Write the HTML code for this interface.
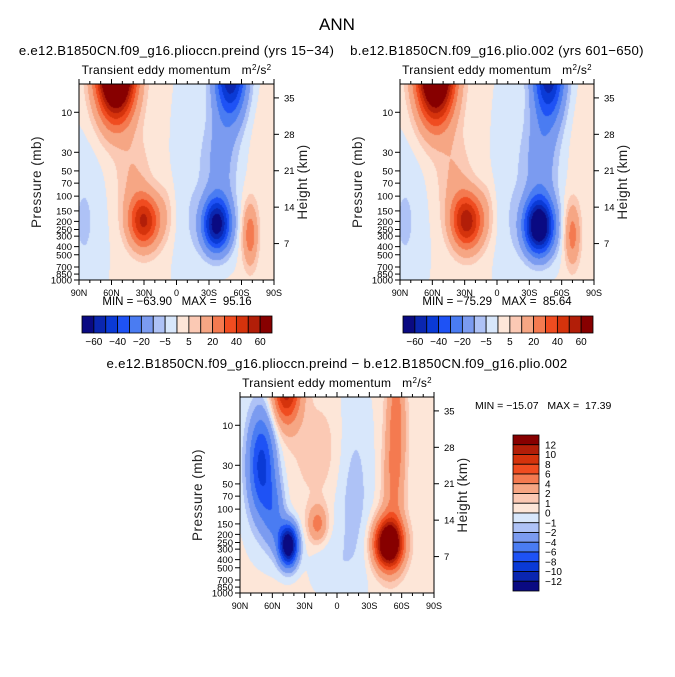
<!DOCTYPE html>
<html><head><meta charset="utf-8">
<style>
html,body{margin:0;padding:0;background:#fff;}
#root{position:relative;width:675px;height:677px;overflow:hidden;font-family:"Liberation Sans",sans-serif;}
canvas{position:absolute;}
svg{position:absolute;left:0;top:0;}
svg text{white-space:pre;}
</style></head>
<body>
<div id="root">
<canvas id="c1"></canvas>
<canvas id="c2"></canvas>
<canvas id="c3"></canvas>
<svg id="s" width="675" height="677"></svg>
</div>
<script>
// ---- data ----
const palette = ["#0a0a82","#0a26b0","#0a3ad6","#1e52f5","#4a7cf2","#7b9bf0","#aec2f6","#d8e7fb","#fde6d8","#fbc9b4","#f6a684","#f47a50","#f04c20","#d5330c","#b21e08","#870000"];
const levelsTop = [-60,-50,-40,-30,-20,-10,-5,0,5,10,20,30,40,50,60];
const levelsDiff = [-12,-10,-8,-6,-4,-2,-1,0,1,2,4,6,8,10,12];
const cbarTopLabels = ["-60","-40","-20","-5","5","20","40","60"];
const cbarDiffLabels = ["12","10","8","6","4","2","1","0","\u22121","\u22122","\u22124","\u22126","\u22128","\u221210","\u221212"];
const pressureTicks = [10,30,50,70,100,150,200,250,300,400,500,700,850,1000];
const heightTicks = [7,14,21,28,35];
const latTicks = [90,60,30,0,-30,-60,-90];
const latLabels = ["90N","60N","30N","0","30S","60S","90S"];
// blobs: [lat, pressure(mb), amplitude, sigmaLat, sigmaLog10P]
const blobsPreind = [
 [0,100,1,60,3],
 [56,3,120,12,0.4],[40,60,9,11,0.35],[30,200,50,10,0.22],[10,150,5,6,0.25],
 [85,200,-6,12,0.6],[-50,3,-65,10,0.4],[-40,40,-14,11,0.45],[-37,220,-66,9,0.22],
 [-10,100,-5,10,1.0],[-68,290,26,5,0.26],[-85,20,3,12,0.5]
];
const blobsPlio = [
 [0,100,1,60,3],
 [57,3,110,12,0.42],[40,60,9,11,0.35],[28,200,55,10,0.23],[10,150,5,6,0.25],
 [85,200,-6,12,0.6],[-48,3,-62,10,0.42],[-40,40,-16,11,0.45],[-39,230,-80,9.5,0.23],
 [-10,100,-5,10,1.0],[-70,290,24,5,0.26],[-85,20,3,12,0.5]
];
const blobsDiff = [
 [0,100,0.5,60,3],
 [47,3.5,11,9,0.3],[15,20,1.2,18,0.4],[70,30,-9,9,0.45],[58,120,-4,7,0.3],[45,270,-16,6,0.17],
 [18,150,4.5,6,0.15],[-48,260,18,9,0.2],[-55,8,4.5,6,0.55],[-52,60,3,7,0.5],
 [-15,60,-2,13,0.9],[10,500,-1.2,12,0.25]
];
// ---- helpers ----
const S = document.getElementById('s');
const NS = "http://www.w3.org/2000/svg";
function el(tag, attrs, parent){const e=document.createElementNS(NS,tag);for(const k in attrs)e.setAttribute(k,attrs[k]);(parent||S).appendChild(e);return e;}
function txt(x,y,t,size,anchor,parent){const e=el('text',{x:x,y:y,'font-size':size,'text-anchor':anchor||'middle',fill:'#000','font-family':'Liberation Sans, sans-serif'},parent);e.textContent=t;return e;}
const PTOP = Math.log10(4.6), PBOT = 3;
function field(blobs, lat, lp){let v=0;for(const b of blobs){const dl=(lat-b[0])/b[3], dp=(lp-Math.log10(b[1]))/b[4];v+=b[2]*Math.exp(-0.5*(dl*dl+dp*dp));}return v;}
function colorFor(v, levels){let i=0;while(i<levels.length && v>=levels[i])i++;return palette[i];}
function panel(id, cv, x0, y0, w, h, blobs, levels, title){
  const g = el('g',{});
  
  
  const X = lat => x0 + (90-lat)/180*w;
  const Y = lp => y0 + (lp-PTOP)/(PBOT-PTOP)*h;
  cv.width=w; cv.height=h; cv.style.left=x0+'px'; cv.style.top=y0+'px';
  const ctx=cv.getContext('2d');
  for(let px=0;px<w;px++){for(let py=0;py<h;py++){
    const lat=90-(px+0.5)/w*180, lp=PTOP+(py+0.5)/h*(PBOT-PTOP);
    ctx.fillStyle=colorFor(field(blobs,lat,lp),levels);ctx.fillRect(px,py,1,1);}}
  el('rect',{x:x0,y:y0,width:w,height:h,fill:'none',stroke:'#000','stroke-width':1},g);
  latTicks.forEach((lt,i)=>{const x=X(lt);
    el('line',{x1:x,x2:x,y1:y0+h,y2:y0+h+5,stroke:'#000'},g);
    el('line',{x1:x,x2:x,y1:y0,y2:y0-5,stroke:'#000'},g);
    txt(x,y0+h+16,latLabels[i],9,'middle',g);});
  for(let lt=80;lt>-90;lt-=10){if(lt%30===0)continue;const x=X(lt);
    el('line',{x1:x,x2:x,y1:y0+h,y2:y0+h+3,stroke:'#000'},g);
    el('line',{x1:x,x2:x,y1:y0,y2:y0-3,stroke:'#000'},g);}
  pressureTicks.forEach(p=>{const y=Y(Math.log10(p));
    el('line',{x1:x0,x2:x0-5,y1:y,y2:y,stroke:'#000'},g);
    txt(x0-7,y+3.5,String(p),9.5,'end',g);});
  heightTicks.forEach(z=>{const p=1000*Math.exp(-z/7);const y=Y(Math.log10(p));
    el('line',{x1:x0+w,x2:x0+w+5,y1:y,y2:y,stroke:'#000'},g);
    txt(x0+w+10,y+3.5,String(z),9.5,'start',g);});
  const yl=txt(0,0,'Pressure (mb)',13.5,'middle',g);yl.setAttribute('transform',`translate(${x0-38},${y0+h/2}) rotate(-90)`);
  yl.setAttribute('fill','#222');yl.setAttribute('letter-spacing','0.5');
  const yr=txt(0,0,'Height (km)',13.5,'middle',g);yr.setAttribute('transform',`translate(${x0+w+33},${y0+h/2}) rotate(-90)`);
  yr.setAttribute('fill','#222');yr.setAttribute('letter-spacing','0.5');
  const st=txt(x0+w/2,y0-10,'',12,'middle',g);
  st.setAttribute('letter-spacing','0.3');
  st.innerHTML='Transient eddy momentum &#160;&#160;m<tspan font-size="8" dy="-4">2</tspan><tspan dy="4">/s</tspan><tspan font-size="8" dy="-4">2</tspan>';
  const tt=txt(x0+w/2,y0-29,title,13.2,'middle',g);
  tt.setAttribute('letter-spacing','0.3');
}
const C=(id)=>document.getElementById(id);
const ft=txt(337,30,'ANN',17,'middle');

panel('preind',C('c1'),79,84,195,196,blobsPreind,levelsTop,'e.e12.B1850CN.f09_g16.plioccn.preind (yrs 15\u221234)');
panel('plio',C('c2'),400,84,194,196,blobsPlio,levelsTop,'b.e12.B1850CN.f09_g16.plio.002 (yrs 601\u2212650)');
panel('diff',C('c3'),240,397,194,196,blobsDiff,levelsDiff,'e.e12.B1850CN.f09_g16.plioccn.preind \u2212 b.e12.B1850CN.f09_g16.plio.002');
txt(177,305,'MIN = \u221263.90   MAX =  95.16',11.5,'middle');
txt(497,305,'MIN = \u221275.29   MAX =  85.64',11.5,'middle');
txt(475,409,'MIN = \u221215.07   MAX =  17.39',10.5,'start');
function hbar(x0,y0,w,h,name){
  const g=el('g',{});
  
  
  const bw=w/palette.length;
  palette.forEach((c,i)=>{el('rect',{x:x0+i*bw,y:y0,width:bw,height:h,fill:c,stroke:'#000','stroke-width':0.8},g);});
  cbarTopLabels.forEach((l,k)=>{const i=k*2+1;txt(x0+i*bw,y0+h+12,l.replace('-','\u2212'),10,'middle',g);});
}
hbar(82,316,190,17,'colorbar-preind');
hbar(403,316,190,17,'colorbar-plio');
(function(){
  const g=el('g',{});
  
  
  const x0=513,y0=435,w=26,h=156,bh=h/palette.length;
  palette.slice().reverse().forEach((c,i)=>{el('rect',{x:x0,y:y0+i*bh,width:w,height:bh,fill:c,stroke:'#000','stroke-width':0.8},g);});
  cbarDiffLabels.forEach((l,i)=>{txt(x0+w+6,y0+(i+1)*bh+3.5,l,10,'start',g);});
})();
</script>
</body></html>
